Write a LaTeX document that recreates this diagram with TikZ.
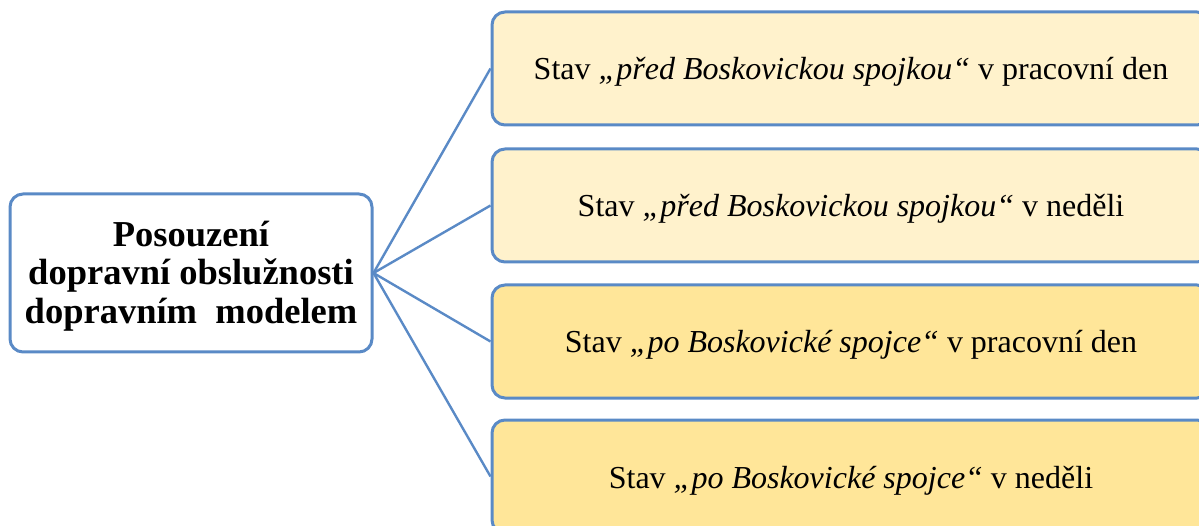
\documentclass[tikz,border=0pt]{standalone}
\usepackage{fontspec}
\setmainfont{Liberation Serif}
\definecolor{bordblue}{HTML}{5A8AC6}
\definecolor{lightfill}{HTML}{FFF2CC}
\definecolor{darkfill}{HTML}{FFE699}
\begin{document}
\begin{tikzpicture}[x=1pt,y=-1pt,
  box/.style={draw=bordblue,line width=3pt,rounded corners=13pt,
    minimum width=718pt,minimum height=113pt,inner sep=0pt,
    text height=30pt,text depth=7pt,
    font=\fontsize{32}{38}\selectfont},
  mainbox/.style={draw=bordblue,line width=3pt,rounded corners=13pt,
    fill=white,minimum width=362pt,minimum height=158pt,inner sep=0pt},
  maintext/.style={align=center,inner sep=0pt,font=\fontsize{36.5}{38.5}\selectfont\bfseries},
  conn/.style={draw=bordblue,line width=2.4pt}]
\useasboundingbox (0,0) rectangle (1199,526);
\clip (0,0) rectangle (1199,526);
\node[mainbox] (l) at (191,273) {};
\node[maintext] (lt) at (191,276) {Posouzení\\dopravní obslužnosti\\dopravním\ \ modelem};
\node[box,fill=lightfill] (b1) at (851,68.5) {Stav {\itshape „před Boskovickou spojkou“} v pracovní den};
\node[box,fill=lightfill] (b2) at (851,205.5) {Stav {\itshape „před Boskovickou spojkou“} v neděli};
\node[box,fill=darkfill] (b3) at (851,341.5) {Stav {\itshape „po Boskovické spojce“} v pracovní den};
\node[box,fill=darkfill] (b4) at (851,476.5) {Stav {\itshape „po Boskovické spojce“} v neděli};
\coordinate (o) at (l.east);
\draw[conn] (o) -- (b1.west);
\draw[conn] (o) -- (b2.west);
\draw[conn] (o) -- (b3.west);
\draw[conn] (o) -- (b4.west);
\end{tikzpicture}
\end{document}
